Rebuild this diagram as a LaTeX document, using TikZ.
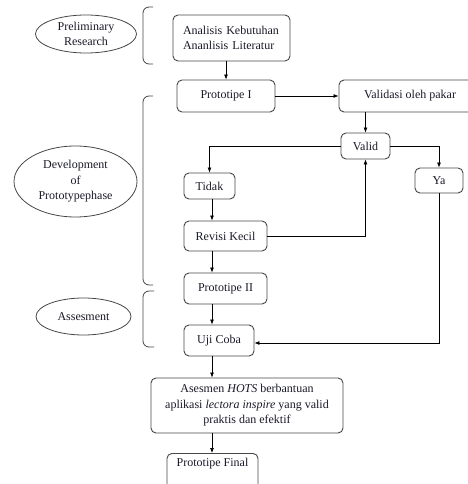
\documentclass[tikz,border=0pt]{standalone}
\usepackage{fontspec}
\setmainfont{Liberation Serif}
\definecolor{inkdark}{RGB}{25,25,40}
\definecolor{linegray}{RGB}{70,70,70}
\usepackage{tikz}
\usetikzlibrary{arrows.meta, shapes.geometric, calc}

\begin{document}
\begin{tikzpicture}[x=1pt, y=-1pt, font=\fontsize{12}{15.5}\selectfont, text=inkdark,
        procbox/.style={draw=linegray, line width=0.9pt, rounded corners=5pt, inner sep=0pt, align=center},
        phase/.style={draw=linegray, line width=0.8pt, ellipse, inner sep=0pt, align=center},
        flow/.style={draw=black, line width=0.7pt, -{Latex[length=5pt,width=4pt]}},
        bracket/.style={draw=linegray, line width=0.8pt, rounded corners=6pt}]
        \useasboundingbox (0,0) rectangle (467,484);
        \coordinate (col) at (212,0);
        % phases
        \node[phase, minimum width=101pt, minimum height=38pt] (prelim) at (86,34) {Preliminary\\Research};
        \node[phase, minimum width=123pt, minimum height=71pt] (develop) at (75.5,181.5) {Development\\of\\Prototypephase};
        \node[phase, minimum width=95pt, minimum height=37pt] (assess) at (83.5,316.5) {Assesment};
        \draw[bracket] (153,7) -- (143,7) -- (143,64) -- (153,64);
        \draw[bracket] (153,96) -- (143,96) -- (143,285) -- (153,285);
        \draw[bracket] (154,291) -- (143,291) -- (143,347) -- (154,347);
        % steps
        \node[procbox, minimum width=117pt, minimum height=46pt, text width=97pt, align=left] (analisis) at (231.5,38) {Analisis Kebutuhan\\Ananlisis Literatur};
        \node[procbox, minimum width=98pt, minimum height=32pt] (proto1) at (226,96) {Prototipe I};
        \node[procbox, minimum width=142pt, minimum height=32pt] (validasi) at (410,96) {Validasi oleh pakar};
        \node[procbox, minimum width=49pt, minimum height=26pt] (valid) at (365.5,146) {Valid};
        \node[procbox, minimum width=51pt, minimum height=26pt] (tidak) at (209.5,186) {Tidak};
        \node[procbox, minimum width=48pt, minimum height=25pt] (ya) at (439,180.5) {Ya};
        \node[procbox, minimum width=83pt, minimum height=30pt] (revisi) at (225.5,236) {Revisi Kecil};
        \node[procbox, minimum width=83pt, minimum height=31pt] (proto2) at (225.5,288.5) {Prototipe II};
        \node[procbox, minimum width=70pt, minimum height=31pt] (uji) at (219,340.5) {Uji Coba};
        \node[procbox, minimum width=192pt, minimum height=55pt] (asesmen) at (247,405.5) {Asesmen \textit{HOTS} berbantuan\\aplikasi \textit{lectora inspire} yang valid\\praktis dan efektif};
        \node[procbox, minimum width=91pt, text height=9pt, text depth=22pt, inner ysep=4pt, anchor=north] (final) at (212.5,453) {Prototipe Final};
        % connectors
        \draw[flow] (proto1.north |- analisis.south) -- (proto1.north);
        \draw[flow] (proto1.east) -- (validasi.west);
        \draw[flow] (valid.north |- validasi.south) -- (valid.north);
        \draw[flow] (valid.west) -| (tidak.north);
        \draw[flow] (valid.east) -| (ya.north);
        \draw[flow] (tidak.south -| col) -- (revisi.north -| col);
        \draw[flow] (revisi.east) -| (valid.south);
        \draw[flow] (revisi.south -| col) -- (proto2.north -| col);
        \draw[flow] (proto2.south -| col) -- (uji.north -| col);
        \draw[flow] (ya.south) |- ($(uji.east)+(0,2.5)$);
        \draw[flow] (uji.south -| col) -- (asesmen.north -| col);
        \draw[flow] (asesmen.south -| col) -- (final.north -| col);
      \end{tikzpicture}
\end{document}
